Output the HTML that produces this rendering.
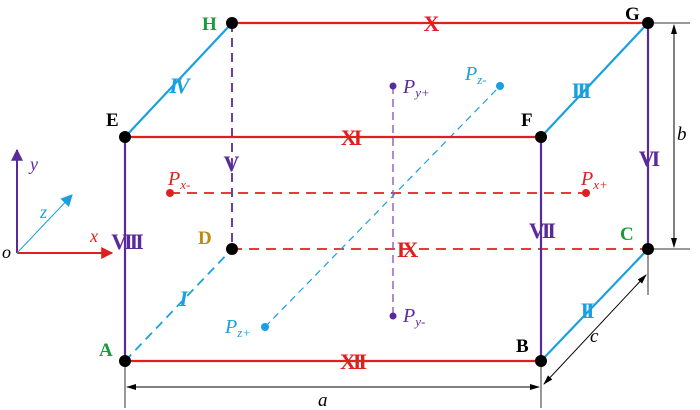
<!DOCTYPE html>
<html><head><meta charset="utf-8"><style>body{margin:0;background:#fff}svg{display:block}</style></head><body>
<svg width="700" height="410" viewBox="0 0 700 410" xmlns="http://www.w3.org/2000/svg" font-family="Liberation Serif, serif">
<defs>
<marker id="ar" viewBox="0 0 10 10" refX="9" refY="5" markerWidth="6" markerHeight="6" orient="auto-start-reverse"><path d="M0,0L10,5L0,10z" fill="#e02020"/></marker>
<marker id="ap" viewBox="0 0 10 10" refX="9" refY="5" markerWidth="6" markerHeight="6" orient="auto-start-reverse"><path d="M0,0L10,5L0,10z" fill="#5b2a9a"/></marker>
<marker id="ac" viewBox="0 0 10 10" refX="9" refY="5" markerWidth="12" markerHeight="12" orient="auto-start-reverse"><path d="M0,0L10,5L0,10z" fill="#1aa0e0"/></marker>
<marker id="ak" viewBox="0 0 10 10" refX="9" refY="5" markerWidth="10" markerHeight="10" orient="auto-start-reverse"><path d="M0,2L10,5L0,8z" fill="#000"/></marker>
</defs>
<line x1="17" y1="253" x2="17" y2="150" stroke="#5b2a9a" stroke-width="2" marker-end="url(#ap)"/>
<line x1="17" y1="253" x2="112" y2="253" stroke="#e02020" stroke-width="2" marker-end="url(#ar)"/>
<line x1="17" y1="253" x2="72" y2="195" stroke="#1aa0e0" stroke-width="1" marker-end="url(#ac)"/>
<text x="2" y="258" font-size="18" font-style="italic">o</text>
<text x="30" y="170" font-size="18" font-style="italic" fill="#5b2a9a">y</text>
<text x="40" y="218" font-size="18" font-style="italic" fill="#1aa0e0">z</text>
<text x="90" y="242" font-size="18" font-style="italic" fill="#e02020">x</text>
<g stroke-width="1.8" fill="none">
<line x1="232" y1="23" x2="232" y2="249" stroke="#5b2a9a" stroke-dasharray="9,6"/>
<line x1="232" y1="249" x2="648" y2="249" stroke="#e02020" stroke-dasharray="10,7"/>
<line x1="125" y1="361" x2="232" y2="249" stroke="#1aa0e0" stroke-dasharray="9,6"/>
<line x1="170" y1="193" x2="586" y2="193" stroke="#e02020" stroke-dasharray="10,7"/>
<line x1="393" y1="86" x2="393" y2="316" stroke="#8a5bc0" stroke-dasharray="8,5" stroke-width="1.4"/>
<line x1="265" y1="327" x2="500" y2="86" stroke="#1aa0e0" stroke-dasharray="7,5" stroke-width="1.2"/>
</g>
<g stroke-width="2.2">
<line x1="232" y1="23" x2="648" y2="23" stroke="#e02020"/>
<line x1="125" y1="137" x2="541" y2="137" stroke="#e02020"/>
<line x1="125" y1="361" x2="541" y2="361" stroke="#e02020"/>
<line x1="125" y1="137" x2="232" y2="23" stroke="#1aa0e0"/>
<line x1="541" y1="137" x2="648" y2="23" stroke="#1aa0e0"/>
<line x1="541" y1="361" x2="648" y2="249" stroke="#1aa0e0"/>
<line x1="125" y1="137" x2="125" y2="361" stroke="#5b2a9a"/>
<line x1="541" y1="137" x2="541" y2="361" stroke="#5b2a9a"/>
<line x1="648" y1="23" x2="648" y2="249" stroke="#5b2a9a"/>
</g>
<g stroke="#333" stroke-width="1">
<line x1="125" y1="361" x2="125" y2="408"/>
<line x1="541" y1="361" x2="541" y2="408"/>
<line x1="648" y1="23" x2="690" y2="23"/>
<line x1="648" y1="249" x2="690" y2="249"/>
<line x1="648" y1="249" x2="648" y2="295"/>
<line x1="127" y1="387" x2="539" y2="387" stroke="#000" marker-start="url(#ak)" marker-end="url(#ak)"/>
<line x1="674" y1="25" x2="674" y2="247" stroke="#000" marker-start="url(#ak)" marker-end="url(#ak)"/>
<line x1="544" y1="384" x2="646" y2="275" stroke="#000" marker-start="url(#ak)" marker-end="url(#ak)"/>
</g>
<text x="318" y="406" font-size="19" font-style="italic">a</text>
<text x="677" y="140" font-size="19" font-style="italic">b</text>
<text x="590" y="342" font-size="19" font-style="italic">c</text>
<g fill="#000">
<circle cx="232" cy="23" r="6"/><circle cx="648" cy="23" r="6"/>
<circle cx="125" cy="137" r="6"/><circle cx="541" cy="137" r="6"/>
<circle cx="232" cy="249" r="6"/><circle cx="648" cy="249" r="6"/>
<circle cx="125" cy="361" r="6"/><circle cx="541" cy="361" r="6"/>
</g>
<circle cx="170" cy="193" r="4" fill="#e02020"/><circle cx="586" cy="193" r="4" fill="#e02020"/>
<circle cx="393" cy="86" r="3.5" fill="#5b2a9a"/><circle cx="393" cy="316" r="3.5" fill="#5b2a9a"/>
<circle cx="500" cy="86" r="4" fill="#1aa0e0"/><circle cx="265" cy="327" r="4" fill="#1aa0e0"/>
<g font-size="19" font-weight="bold">
<text x="202" y="30" fill="#1a9a3a">H</text>
<text x="625" y="20" fill="#000">G</text>
<text x="106" y="126" fill="#000">E</text>
<text x="521" y="126" fill="#000">F</text>
<text x="198" y="244" fill="#c08a10">D</text>
<text x="620" y="240" fill="#1a9a3a">C</text>
<text x="99" y="356" fill="#1a9a3a">A</text>
<text x="516" y="352" fill="#000">B</text>
</g>
<g font-style="italic" font-size="20">
<text x="168" y="185" fill="#e02020">P<tspan font-size="13" dy="4">x-</tspan></text>
<text x="581" y="185" fill="#e02020">P<tspan font-size="13" dy="4">x+</tspan></text>
<text x="403" y="93" fill="#5b2a9a">P<tspan font-size="13" dy="4">y+</tspan></text>
<text x="403" y="322" fill="#5b2a9a">P<tspan font-size="13" dy="4">y-</tspan></text>
<text x="465" y="80" fill="#1aa0e0">P<tspan font-size="13" dy="4">z-</tspan></text>
<text x="225" y="333" fill="#1aa0e0">P<tspan font-size="13" dy="4">z+</tspan></text>
</g>
<g font-size="22" text-anchor="middle" font-weight="bold" letter-spacing="-3">
<text x="178" y="93" fill="#1aa0e0" font-style="italic">IV</text>
<text x="230" y="171" fill="#5b2a9a">V</text>
<text x="126" y="249" fill="#5b2a9a">VIII</text>
<text x="182" y="306" fill="#1aa0e0" font-style="italic">I</text>
<text x="430" y="31" fill="#e02020">X</text>
<text x="350" y="145" fill="#e02020">XI</text>
<text x="406" y="257" fill="#e02020">IX</text>
<text x="352" y="369" fill="#e02020">XII</text>
<text x="580" y="98" fill="#1aa0e0">III</text>
<text x="648" y="166" fill="#5b2a9a">VI</text>
<text x="541" y="238" fill="#5b2a9a">VII</text>
<text x="586" y="318" fill="#1aa0e0">II</text>
</g>
</svg>
</body></html>
